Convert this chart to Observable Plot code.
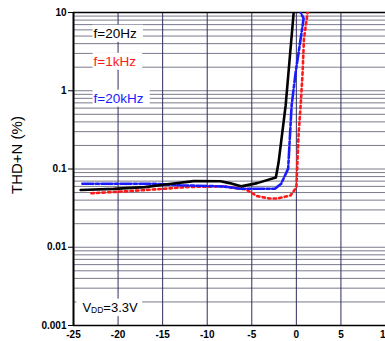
<!DOCTYPE html>
<html><head><meta charset="utf-8">
<script src="https://cdn.jsdelivr.net/npm/d3@7"></script>
<script src="https://cdn.jsdelivr.net/npm/@observablehq/plot@0.6"></script>
<style>
html,body{margin:0;padding:0;background:#fff;overflow:hidden;}
#chart{width:385px;height:341px;}
</style></head><body><div id="chart"></div>
<script>
// Tick labels
const xTicks = [-25, -20, -15, -10, -5, 0, 5, 10];
const yTicks = [0.001, 0.01, 0.1, 1, 10];
const xGrid = [-20, -15, -10, -5, 0, 5];

// Series: f = 20Hz (black, solid)
const x20Hz = [-24.2, -20.5, -17, -14, -11.5, -8.5, -7.5, -6.2, -4.4, -2.3, -2.0, -1.2, -0.3];
const y20Hz = [0.054, 0.0557, 0.0587, 0.0647, 0.070, 0.0698, 0.066, 0.060, 0.066, 0.078, 0.12, 0.65, 10];

// Series: f = 1kHz (red, dotted)
const x1kHz = [-23, -19, -15, -12, -8.2, -5.7, -4.4, -3, -2.1, -0.65, 0.0, 0.25, 0.48, 0.7, 0.85, 1.26];
const y1kHz = [0.049, 0.052, 0.0557, 0.059, 0.060, 0.055, 0.045, 0.042, 0.042, 0.046, 0.058, 0.28, 0.65, 1.7, 4.6, 10];

// Series: f = 20kHz (blue, dash-dot)
const x20kHz = [-24, -16, -13, -11.9, -8.2, -6.3, -2.4, -1.7, -0.92, -0.53, -0.08, 0.7, 0.81, 0.48];
const y20kHz = [0.0647, 0.0647, 0.062, 0.0615, 0.0598, 0.056, 0.056, 0.065, 0.101, 0.65, 1.71, 6.8, 8.4, 10];

// Annotations
const labelText = ["f=20Hz", "f=1kHz", "f=20kHz"];
const labelColor = ["#000000", "#ff1a1a", "#1a1aff"];
const labelX = [-22.75, -22.75, -22.75];
const labelY = [5.4, 2.37, 0.80];
const vddText = ["VDD=3.3V"];
const vddX = [-24.0];
const vddY = [0.0017];

const rows = (xs, ys) => xs.map((x, i) => ({x, y: ys[i]}));
const minorY = [];
for (let e = -3; e < 1; e++) for (let m = 1; m < 10; m++) minorY.push(+(m * Math.pow(10, e)).toPrecision(3));

const labels = labelText.map((t, i) => ({t, c: labelColor[i], x: labelX[i], y: labelY[i]}));
const vdd = vddText.map((t, i) => ({t, x: vddX[i], y: vddY[i]}));

const font = "'Liberation Sans', Arial, Helvetica, sans-serif";

const plot = Plot.plot({
  width: 385, height: 341,
  marginLeft: 73, marginRight: 0, marginTop: 12, marginBottom: 16,
  style: {fontFamily: font, fontSize: "10px", background: "#fff", color: "#000"},
  x: {domain: [-25, 10]},
  y: {type: "log", domain: [0.001, 10]},
  marks: [
    Plot.ruleY(minorY, {stroke: "#7a7a8c", strokeWidth: 1}),
    Plot.ruleX(xGrid, {stroke: "#2e2e60", strokeWidth: 1}),
    Plot.ruleX([-25], {stroke: "#000", strokeWidth: 2}),
    Plot.ruleY([10, 0.001], {stroke: "#000", strokeWidth: 1.5}),
    Plot.axisX({ticks: xTicks, tickSize: 0, tickPadding: 5, fontWeight: "bold", label: null, tickFormat: d => String(d)}),
    Plot.axisY({ticks: yTicks, tickSize: 5, tickPadding: 2, fontWeight: "bold", label: null, tickFormat: d => String(d), stroke: "#000"}),
    Plot.text(["THD+N (%)"], {frameAnchor: "left", dx: -56, dy: 25, rotate: -90, fontSize: 15}),
    Plot.text(labels, {x: "x", y: "y", text: "t", fill: "c", textAnchor: "start", fontSize: 13.5}),
    Plot.text(vdd, {x: "x", y: "y", text: "t", fill: "#000", textAnchor: "start", fontSize: 13}),
    Plot.line(rows(x1kHz, y1kHz), {x: "x", y: "y", stroke: "#ff1a1a", strokeWidth: 2.6, strokeDasharray: "2.4,3.2", clip: true}),
    Plot.line(rows(x20kHz, y20kHz), {x: "x", y: "y", stroke: "#1a1aff", strokeWidth: 2.6, strokeDasharray: "11,2.5,3,2.5", clip: true}),
    Plot.line(rows(x20Hz, y20Hz), {x: "x", y: "y", stroke: "#000", strokeWidth: 2.6, clip: true})
  ]
});
document.getElementById("chart").appendChild(plot);

const NS = "http://www.w3.org/2000/svg";
const allText = Array.from(plot.querySelectorAll("text"));
// VDD subscript
const vddEls = allText.filter(t => vddText.includes(t.textContent));
vddEls.forEach(vt => {
  vt.textContent = "";
  const a = document.createElementNS(NS, "tspan"); a.textContent = "V";
  const b = document.createElementNS(NS, "tspan"); b.textContent = "DD"; b.setAttribute("font-size", "8.5"); b.setAttribute("dy", "1.5");
  const c = document.createElementNS(NS, "tspan"); c.textContent = "=3.3V"; c.setAttribute("dy", "-1.5");
  vt.append(a, b, c);
});
// white boxes behind annotation labels
const boxed = allText.filter(t => labelText.includes(t.textContent)).map(t => [t, false])
  .concat(vddEls.map(t => [t, true]));
boxed.forEach(([t, isVdd]) => {
  const bb = t.getBBox();
  const r = document.createElementNS(NS, "rect");
  const padL = isVdd ? 6 : 1, padR = isVdd ? 4 : 6;
  r.setAttribute("x", bb.x - padL);
  r.setAttribute("y", bb.y - 1);
  r.setAttribute("width", bb.width + padL + padR);
  r.setAttribute("height", bb.height + 2);
  r.setAttribute("fill", "#fff");
  if (t.getAttribute("transform")) r.setAttribute("transform", t.getAttribute("transform"));
  t.parentNode.insertBefore(r, t);
});
</script></body></html>
